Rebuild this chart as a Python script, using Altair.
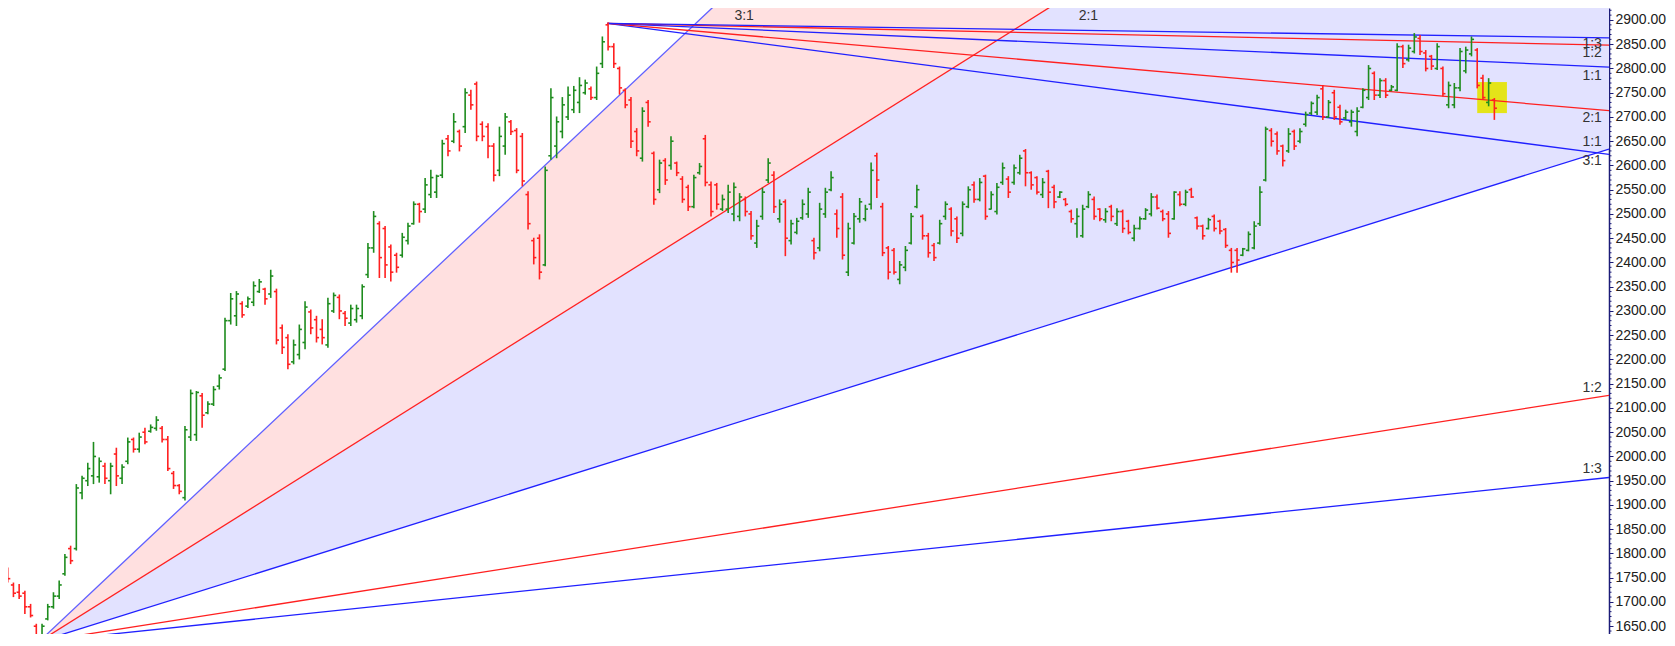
import altair as alt
import numpy as np
import pandas as pd

# ---------------- data ----------------
highs = [1775,1771,1740,1737,1723,1696,1655,1655,1696,1720,
         1744,1799,1816,1943,1960,1987,2030,1998,1987,1987,
         2018,1984,2039,2039,2049,2059,2066,2083,2063,2042,
         1970,1943,2063,2138,2135,2131,2114,2145,2169,2286,
         2337,2341,2320,2330,2361,2366,2348,2385,2346,2272,
         2252,2241,2272,2320,2303,2290,2283,2327,2338,2334,
         2300,2313,2313,2355,2440,2506,2485,2475,2437,2420,
         2461,2482,2526,2523,2574,2591,2581,2653,2663,2708,
         2674,2759,2756,2773,2691,2687,2646,2680,2708,2694,
         2677,2667,2547,2451,2458,2598,2759,2701,2741,2763,
         2764,2782,2777,2763,2804,2866,2895,2852,2804,2759,
         2741,2677,2720,2735,2629,2612,2615,2660,2608,2578,
         2560,2581,2605,2663,2567,2564,2540,2560,2565,2543,
         2536,2506,2488,2554,2615,2588,2530,2530,2488,2492,
         2530,2554,2451,2523,2554,2588,2509,2543,2482,2502,
         2533,2519,2606,2626,2523,2434,2430,2403,2434,2502,
         2560,2499,2461,2440,2488,2526,2514,2495,2526,2557,
         2567,2574,2581,2547,2564,2606,2578,2602,2622,2634,
         2588,2578,2574,2591,2560,2547,2533,2509,2512,2519,
         2547,2536,2512,2512,2519,2512,2509,2488,2478,2495,
         2512,2543,2540,2509,2506,2547,2547,2550,2554,2495,
         2478,2492,2499,2488,2471,2430,2430,2430,2464,2485,
         2557,2680,2677,2670,2643,2677,2674,2677,2711,2732,
         2746,2766,2735,2756,2725,2715,2715,2720,2759,2807,
         2794,2780,2780,2766,2852,2849,2849,2873,2869,2838,
         2828,2852,2804,2773,2770,2842,2845,2866,2842,2787,
         2780,2739]
lows = [1747,1740,1710,1706,1675,1668,1627,1620,1662,1686,
        1706,1754,1778,1806,1912,1939,1943,1946,1943,1922,
        1939,1943,1984,2008,2008,2025,2049,2053,2029,1970,
        1933,1922,1909,2032,2032,2059,2087,2104,2138,2176,
        2272,2269,2286,2306,2310,2337,2313,2327,2231,2211,
        2180,2190,2200,2221,2252,2235,2231,2224,2296,2283,
        2269,2269,2276,2283,2368,2420,2368,2368,2361,2379,
        2410,2437,2478,2482,2502,2533,2533,2574,2619,2646,
        2629,2667,2715,2650,2650,2615,2567,2578,2622,2663,
        2584,2557,2468,2396,2365,2392,2612,2615,2656,2694,
        2708,2708,2746,2735,2735,2801,2837,2801,2746,2718,
        2636,2619,2608,2680,2519,2543,2560,2591,2578,2523,
        2506,2512,2581,2557,2495,2509,2506,2502,2485,2485,
        2495,2447,2430,2488,2564,2502,2482,2413,2437,2458,
        2488,2492,2406,2423,2492,2547,2451,2406,2372,2437,
        2482,2485,2509,2533,2413,2365,2375,2355,2382,2437,
        2512,2447,2410,2403,2437,2488,2454,2440,2454,2512,
        2523,2526,2488,2509,2499,2560,2533,2560,2581,2557,
        2550,2540,2533,2512,2512,2533,2516,2482,2451,2451,
        2512,2488,2485,2482,2485,2475,2461,2458,2444,2468,
        2488,2495,2509,2485,2451,2488,2516,2516,2533,2468,
        2447,2468,2464,2458,2430,2379,2379,2413,2423,2427,
        2475,2567,2639,2622,2598,2626,2632,2646,2680,2704,
        2704,2694,2698,2694,2684,2694,2680,2660,2718,2735,
        2735,2739,2739,2753,2753,2801,2814,2831,2828,2794,
        2797,2797,2742,2718,2718,2753,2790,2825,2759,2735,
        2722,2694]
opens = [1752,1765,1735,1720,1718,1690,1650,1628,1665,1690,
         1712,1758,1810,1810,1925,1950,1960,1958,1980,1950,
         2005,1955,1990,2035,2015,2050,2052,2058,2058,2035,
         1965,1940,1915,2040,2045,2125,2090,2108,2145,2180,
         2280,2290,2315,2310,2318,2340,2345,2335,2340,2265,
         2245,2195,2210,2235,2298,2282,2262,2230,2300,2328,
         2295,2275,2282,2290,2375,2430,2480,2470,2432,2415,
         2415,2445,2480,2520,2510,2540,2545,2580,2655,2650,
         2670,2680,2745,2768,2685,2680,2640,2590,2640,2690,
         2672,2660,2540,2445,2450,2395,2620,2640,2670,2700,
         2715,2730,2750,2758,2740,2810,2890,2845,2800,2755,
         2735,2670,2615,2730,2625,2550,2610,2600,2605,2572,
         2555,2515,2585,2655,2560,2560,2510,2510,2500,2495,
         2530,2500,2440,2495,2570,2580,2490,2525,2445,2462,
         2492,2500,2445,2430,2500,2550,2500,2535,2380,2440,
         2490,2490,2520,2620,2515,2430,2425,2365,2390,2440,
         2515,2495,2455,2435,2440,2495,2510,2490,2460,2515,
         2560,2530,2578,2510,2505,2565,2572,2565,2585,2630,
         2585,2575,2540,2588,2555,2535,2530,2505,2480,2455,
         2515,2530,2510,2488,2515,2480,2505,2485,2450,2470,
         2490,2500,2535,2505,2500,2490,2540,2520,2550,2492,
         2475,2470,2495,2485,2468,2425,2425,2415,2425,2430,
         2480,2570,2672,2665,2640,2630,2670,2650,2685,2708,
         2710,2758,2700,2750,2720,2698,2690,2670,2720,2740,
         2790,2745,2775,2755,2755,2845,2818,2835,2862,2832,
         2825,2800,2800,2725,2725,2760,2795,2830,2838,2780,
         2730,2735]
closes = [1770,1748,1718,1712,1690,1672,1632,1650,1690,1712,
          1735,1792,1785,1935,1955,1975,2000,1990,1955,1980,
          1960,1978,2030,2015,2040,2030,2060,2075,2035,1975,
          1940,1928,2055,2130,2132,2085,2108,2138,2162,2280,
          2325,2335,2292,2325,2352,2360,2325,2372,2240,2225,
          2190,2230,2262,2308,2265,2245,2245,2315,2332,2300,
          2285,2305,2305,2350,2430,2495,2410,2395,2380,2390,
          2452,2475,2520,2505,2560,2575,2578,2645,2630,2690,
          2640,2750,2725,2660,2660,2640,2580,2660,2700,2670,
          2590,2568,2480,2410,2380,2590,2740,2690,2725,2745,
          2755,2765,2770,2740,2790,2855,2845,2810,2760,2725,
          2650,2630,2712,2690,2530,2605,2570,2650,2585,2530,
          2515,2575,2598,2565,2505,2520,2530,2545,2555,2535,
          2505,2455,2475,2545,2605,2515,2520,2450,2480,2485,
          2520,2545,2420,2510,2545,2575,2470,2415,2470,2495,
          2525,2510,2590,2570,2420,2380,2380,2395,2425,2495,
          2550,2455,2420,2410,2480,2520,2465,2450,2520,2550,
          2530,2565,2495,2540,2555,2595,2545,2595,2615,2585,
          2560,2545,2565,2545,2525,2545,2520,2490,2495,2510,
          2540,2495,2490,2505,2495,2505,2470,2462,2470,2490,
          2508,2535,2512,2490,2460,2545,2520,2545,2535,2475,
          2455,2488,2470,2465,2435,2400,2405,2428,2458,2475,
          2545,2675,2650,2630,2610,2665,2640,2670,2705,2728,
          2740,2700,2730,2700,2690,2710,2710,2712,2755,2800,
          2745,2775,2745,2762,2845,2810,2842,2865,2835,2800,
          2805,2845,2748,2765,2760,2835,2838,2860,2765,2740,
          2770,2718]

# Gann fans: origin (bar index, price) and price-per-bar of the 1:1 line
fan_ratio_labels = ["3:1", "2:1", "1:1", "1:2", "1:3"]
fan_ratio_mult = [3, 2, 1, 0.5, 1 / 3]
low_fan_origin = (6.47, 1618)
low_fan_unit = 3.70
high_fan_origin = (105.9, 2893)
high_fan_unit = 0.514

# highlighted box (bar index range, price range)
box_i = [258.0, 263.2]
box_p = [2708, 2772]

# text labels: text, bar index, price, alignment / baseline
label_text = ["3:1", "2:1", "1:3", "1:2", "1:1", "2:1", "1:1", "3:1", "1:2", "1:3"]
label_i = [129.8, 190.0, 279.8, 279.8, 279.8, 279.8, 279.8, 279.8, 279.8, 279.8]
label_p = [2923, 2923, 2851, 2832, 2785, 2698, 2649, 2609, 2141, 1974]
label_align = ["center", "center", "right", "right", "right", "right", "right", "right", "right", "right"]

major_ticks = list(range(1650, 2950, 50))
minor_ticks = [v for v in range(1640, 2930, 10) if v % 50 != 0]

# ---------------- styles ----------------
GREEN = "#1e8c1e"
RED = "#ff2020"
BLUE = "#2020ff"
BLUE_SOFT = "#6060ff"
PINK = "#ffe0e0"
LAVENDER = "#e2e2ff"
YELLOW = "#e4e400"
AXIS_C = "#1c1c78"
W, H = 1601, 626
X_DOMAIN = [1.049, 281.05]
Y_DOMAIN = [1633.9, 2924.7]

xs = alt.Scale(domain=X_DOMAIN, nice=False, zero=False)
ys = alt.Scale(domain=Y_DOMAIN, nice=False, zero=False)
yaxis = alt.Axis(orient="right", values=major_ticks, format=".2f", title=None,
                 labelFont="Liberation Sans", labelFontSize=14, labelColor="#202020",
                 tickColor=AXIS_C, domainColor=AXIS_C, domainWidth=1.5, tickSize=4,
                 tickWidth=1, labelPadding=2, grid=False)


def X(f):
    return alt.X(f, type="quantitative", scale=xs, axis=None)


def Y(f):
    return alt.Y(f, type="quantitative", scale=ys, axis=yaxis)


# ---------------- tables ----------------
n = len(highs)
bars = pd.DataFrame({"i": np.arange(n), "high": highs, "low": lows,
                     "open": opens, "close": closes})
bars["dir"] = np.where(bars["close"] >= bars["open"], "up", "down")
bars["xl"] = bars["i"] - 0.45
bars["xr"] = bars["i"] + 0.45

i_end = X_DOMAIN[1]


def fan_rows(origin, unit, sign, colors):
    rows = []
    i0, p0 = origin
    for lab, m, c in zip(fan_ratio_labels, fan_ratio_mult, colors):
        rows.append({"i": i0, "p": p0, "i2": i_end,
                     "p2": p0 + sign * unit * m * (i_end - i0), "color": c, "lab": lab})
    return rows


low_colors = [BLUE_SOFT, RED, BLUE, RED, BLUE]
high_colors = [BLUE, RED, BLUE, RED, BLUE]
fans = pd.DataFrame(fan_rows(low_fan_origin, low_fan_unit, 1, low_colors) +
                    fan_rows(high_fan_origin, high_fan_unit, -1, high_colors))

li0, lp0 = low_fan_origin
span = i_end - li0
pink_df = pd.DataFrame({"i": [li0, i_end],
                        "top": [lp0, lp0 + 3 * low_fan_unit * span],
                        "bot": [lp0, lp0 + 2 * low_fan_unit * span]})
lav_df = pd.DataFrame({"i": [li0, i_end],
                       "top": [lp0, lp0 + 2 * low_fan_unit * span],
                       "bot": [lp0, lp0 + 1 * low_fan_unit * span]})
box_df = pd.DataFrame({"i": [box_i[0]], "i2": [box_i[1]], "p": [box_p[0]], "p2": [box_p[1]]})
labels_df = pd.DataFrame({"t": label_text, "i": label_i, "p": label_p, "a": label_align})
minor_df = pd.DataFrame({"p": minor_ticks})

# ---------------- layers ----------------
pink = alt.Chart(pink_df).mark_area(clip=True, color=PINK, opacity=1).encode(
    x=X("i"), y=Y("top"), y2=alt.Y2("bot"))
lav = alt.Chart(lav_df).mark_area(clip=True, color=LAVENDER, opacity=1).encode(
    x=X("i"), y=Y("top"), y2=alt.Y2("bot"))
box = alt.Chart(box_df).mark_rect(clip=True, color=YELLOW, opacity=0.9).encode(
    x=X("i"), x2=alt.X2("i2"), y=Y("p"), y2=alt.Y2("p2"))
lines = alt.Chart(fans).mark_rule(clip=True, strokeWidth=1.3).encode(
    x=X("i"), x2=alt.X2("i2"), y=Y("p"), y2=alt.Y2("p2"),
    color=alt.Color("color:N", scale=None))

bar_color = alt.Color("dir:N", scale=alt.Scale(domain=["up", "down"], range=[GREEN, RED]), legend=None)
base = alt.Chart(bars)
hl = base.mark_rule(clip=True, strokeWidth=1.6).encode(
    x=X("i"), y=Y("low"), y2=alt.Y2("high"), color=bar_color)
op = base.mark_rule(clip=True, strokeWidth=1.6).encode(
    x=X("xl"), x2=alt.X2("i"), y=Y("open"), color=bar_color)
cl = base.mark_rule(clip=True, strokeWidth=1.6).encode(
    x=X("i"), x2=alt.X2("xr"), y=Y("close"), color=bar_color)

txt_right = alt.Chart(labels_df[labels_df["a"] == "right"]).mark_text(
    align="right", baseline="middle", font="Liberation Sans", fontSize=14, color="#333333").encode(
    x=X("i"), y=Y("p"), text="t:N")
txt_center = alt.Chart(labels_df[labels_df["a"] == "center"]).mark_text(
    align="center", baseline="top", font="Liberation Sans", fontSize=14, color="#333333").encode(
    x=X("i"), y=Y("p"), text="t:N")

minor = alt.Chart(minor_df).mark_rule(color=AXIS_C, strokeWidth=1).encode(
    y=Y("p"), x=alt.value(W), x2=alt.value(W + 2.5))

chart = alt.layer(pink, lav, box, lines, hl, op, cl, txt_right, txt_center, minor).properties(
    width=W, height=H,
    autosize=alt.AutoSizeParams(type="none"),
    padding={"left": 0, "right": 58, "top": 0, "bottom": 0},
    background="white",
).configure_view(stroke=None)

chart.save("out.html", embed_options={"renderer": "svg", "actions": False})
